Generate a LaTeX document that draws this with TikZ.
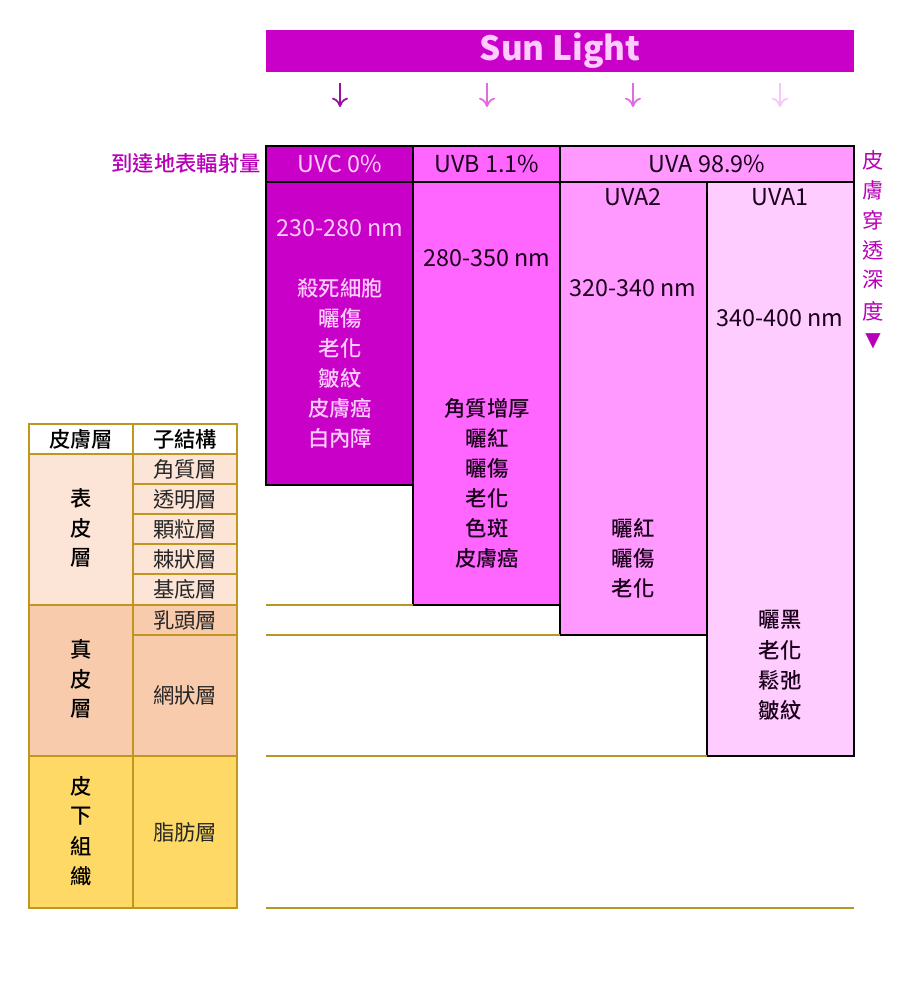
\documentclass[tikz,border=0pt]{standalone}
\usepackage{fontspec}
\setmainfont{Noto Sans CJK TC}
\newfontfamily\medf{Noto Sans CJK TC Medium}
\newfontfamily\symf{DejaVu Sans}
\definecolor{mag}{HTML}{C800C8}
\definecolor{labmag}{HTML}{B800B8}
\definecolor{uvb}{HTML}{FF66FF}
\definecolor{uvatwo}{HTML}{FF99FF}
\definecolor{uvaone}{HTML}{FFCCFF}
\definecolor{ltpink}{HTML}{FFCCFF}
\definecolor{dark}{HTML}{1A001A}
\definecolor{gold}{HTML}{C0961E}
\definecolor{goldline}{HTML}{B8962A}
\definecolor{epi}{HTML}{FCE4D6}
\definecolor{derm}{HTML}{F8CBAD}
\definecolor{subc}{HTML}{FFD966}
\definecolor{arrA}{HTML}{9A0FA0}
\definecolor{arrB}{HTML}{E46AE4}
\definecolor{arrC}{HTML}{F8C6F8}
\usetikzlibrary{arrows.meta}
\begin{document}
\begin{tikzpicture}[x=0.75pt,y=-0.75pt,
  txt/.style={inner sep=0pt, font=\fontsize{16}{18}\selectfont},
  lat/.style={inner sep=0pt, font=\fontsize{17.5}{19}\selectfont},
  boldtxt/.style={txt, font=\medf\fontsize{16}{18}\selectfont},
  cellbox/.style={draw=black, line width=0.8pt},
  tabline/.style={draw=gold, line width=0.8pt},
  layerline/.style={draw=goldline, line width=0.8pt},
  sunarrow/.style={line width=1.3pt, -{To[length=7pt,width=12pt]}}]
\useasboundingbox (0,0) rectangle (924,999);

% Sun light bar
\fill[mag] (266,30) rectangle (854,72);
\node[inner sep=0pt, text=ltpink, font=\fontsize{25}{27}\selectfont\bfseries] (sun) at (560,51) {Sun Light};

% arrows
\foreach \x/\c [count=\i] in {340/arrA,487/arrB,633/arrB,780/arrC}{
  \coordinate (as\i) at (\x,83);
  \coordinate (ae\i) at (\x,107);
  \draw[sunarrow, draw=\c] (as\i) -- (ae\i);
}

% left label
\node[boldtxt, text=labmag, anchor=east] (reach) at (261,163) {到達地表輻射量};

% columns
\filldraw[fill=mag, cellbox] (266,182) rectangle (413,485);
\filldraw[fill=uvb, cellbox] (413,182) rectangle (560,605);
\filldraw[fill=uvatwo, cellbox] (560,182) rectangle (707,635);
\filldraw[fill=uvaone, cellbox] (707,182) rectangle (854,756);
% header row
\filldraw[fill=mag, cellbox] (266,146) rectangle (413,182);
\filldraw[fill=uvb, cellbox] (413,146) rectangle (560,182);
\filldraw[fill=uvatwo, cellbox] (560,146) rectangle (854,182);

\node[lat, text=ltpink] (hc) at (340,164) {UVC 0\%};
\node[lat, text=dark] (hb) at (487,164) {UVB 1.1\%};
\node[lat, text=dark] (ha) at (707,164) {UVA 98.9\%};

\node[lat, text=dark] (ua2) at (633,197) {UVA2};
\node[lat, text=dark] (ua1) at (780,197) {UVA1};

\node[lat, text=ltpink] (nmc) at (340,228) {230-280 nm};
\node[lat, text=dark] (nmb) at (487,258) {280-350 nm};
\node[lat, text=dark] (nma2) at (633,288) {320-340 nm};
\node[lat, text=dark] (nma1) at (780,318) {340-400 nm};

\foreach \t [count=\i] in {殺死細胞,曬傷,老化,皺紋,皮膚癌,白內障}
  \node[boldtxt, text=ltpink] (c\i) at (340,258+30*\i) {\t};
\foreach \t [count=\i] in {角質增厚,曬紅,曬傷,老化,色斑,皮膚癌}
  \node[boldtxt, text=dark] (b\i) at (487,378+30*\i) {\t};
\foreach \t [count=\i] in {曬紅,曬傷,老化}
  \node[boldtxt, text=dark] (d\i) at (633,498+30*\i) {\t};
\foreach \t [count=\i] in {曬黑,老化,鬆弛,皺紋}
  \node[boldtxt, text=dark] (e\i) at (780,590+30*\i) {\t};

% right vertical label
\foreach \t/\y [count=\i] in {皮/160,膚/190,穿/220,透/250,深/280,度/311}
  \node[txt, text=labmag] (v\i) at (873,\y) {\t};
\node[inner sep=0pt, text=labmag, font=\symf\fontsize{15}{16}\selectfont] (vtri) at (873,341) {▼};

% layer lines
\draw[layerline] (266,605) -- (413,605);
\draw[layerline] (266,635) -- (560,635);
\draw[layerline] (266,756) -- (707,756);
\draw[layerline] (266,908) -- (854,908);

% left table
\fill[white] (29,424) rectangle (237,454);
\fill[epi] (29,454) rectangle (237,605);
\fill[derm] (29,605) rectangle (237,756);
\fill[subc] (29,756) rectangle (237,908);
\draw[tabline] (133,424) -- (133,908);
\foreach \y in {484,514,544,574} \draw[tabline] (133,\y) -- (237,\y);
\draw[tabline] (133,635) -- (237,635);
\draw[gold, line width=1.5pt] (29,454) -- (237,454);
\draw[gold, line width=1.5pt] (29,605) -- (237,605);
\draw[gold, line width=1.5pt] (29,756) -- (237,756);
\draw[gold, line width=1.8pt] (29,424) rectangle (237,908);

\node[boldtxt, text=black] (th1) at (81,439) {皮膚層};
\node[boldtxt, text=black] (th2) at (185,439) {子結構};
\foreach \t [count=\i] in {角質層,透明層,顆粒層,棘狀層,基底層}
  \node[txt, text=black!85] (s\i) at (185,439+30*\i) {\t};
\node[txt, text=black!85] (s6) at (185,620) {乳頭層};
\node[txt, text=black!85] (s7) at (185,695) {網狀層};
\node[txt, text=black!85] (s8) at (185,832) {脂肪層};

\foreach \t [count=\i] in {表,皮,層}
  \node[boldtxt, text=black] (l1\i) at (81,468+30*\i) {\t};
\foreach \t [count=\i] in {真,皮,層}
  \node[boldtxt, text=black] (l2\i) at (81,619+30*\i) {\t};
\foreach \t [count=\i] in {皮,下,組,織}
  \node[boldtxt, text=black] (l3\i) at (81,756+30*\i) {\t};
\end{tikzpicture}
\end{document}
